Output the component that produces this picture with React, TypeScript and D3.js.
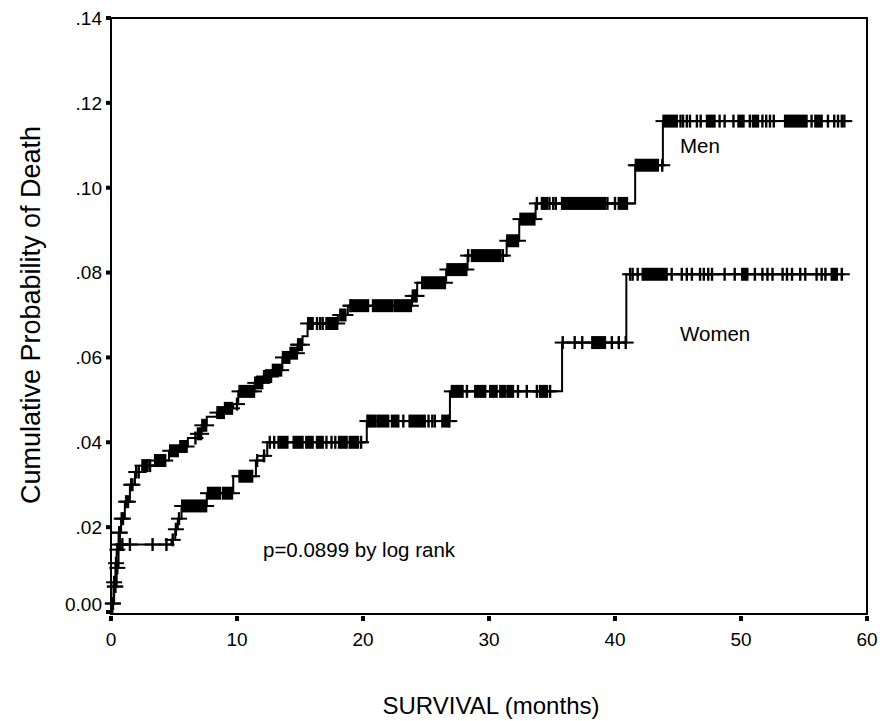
import React from "react";
import * as d3 from "d3";

// ---- Data (months, cumulative probability) ----
const xTicks = [0, 10, 20, 30, 40, 50, 60];
const yTicks = [0, 0.02, 0.04, 0.06, 0.08, 0.1, 0.12, 0.14];
const yTickLabels = ["0.00", ".02", ".04", ".06", ".08", ".10", ".12", ".14"];

const menSteps: [number, number][] = [
  [0, 0], [0.1, 0.002], [0.2, 0.007], [0.35, 0.0115], [0.45, 0.0147], [0.6, 0.0187],
  [0.8, 0.022], [1.1, 0.026], [1.5, 0.03], [1.9, 0.033], [2.5, 0.0345], [3.5, 0.0357],
  [4.6, 0.038], [5.4, 0.039], [6.1, 0.041], [6.9, 0.042], [7.2, 0.044], [7.6, 0.046],
  [8.4, 0.047], [9.0, 0.048], [9.7, 0.049], [10.1, 0.052], [11.4, 0.054], [12.1, 0.0555],
  [12.8, 0.057], [13.6, 0.06], [14.2, 0.061], [14.8, 0.063], [15.2, 0.065], [15.6, 0.068],
  [18.0, 0.07], [18.8, 0.0722], [23.9, 0.0745], [24.3, 0.0776], [26.6, 0.0807], [28.3, 0.084],
  [31.4, 0.0875], [32.4, 0.0926], [33.7, 0.0963], [41.6, 0.1053], [43.8, 0.1157],
];
const menEnd = 58.2;
const menCensor: number[] = [
  0.15, 0.25, 0.4, 0.5, 0.65, 0.7, 0.85, 0.95, 1.2, 1.35, 1.6, 1.7, 2.0, 2.2,
  3.1, 6.7, 10.0, 14.85, 16.35, 16.6, 16.8, 19.0, 24.2, 28.35, 31.1, 33.8,
  34.8, 35.1, 35.3, 39.4, 40.0, 41.65, 43.75,
  45.2, 45.4, 45.7, 45.95, 46.5, 46.8, 48.3, 48.7, 49.4, 50.7, 51.7, 52.0, 52.3, 52.6,
  55.6, 56.9, 57.4, 57.7, 58.0, 58.2,
];
const menBlocks: [number, number][] = [
  [2.5, 2.9], [3.5, 4.3], [4.7, 5.3], [5.5, 6.0], [6.9, 7.15], [7.25, 7.55],
  [8.45, 8.95], [9.05, 9.6], [10.2, 11.0], [11.1, 11.35], [11.45, 12.0], [12.15, 12.7],
  [12.85, 13.5], [13.65, 14.15], [14.25, 14.75], [14.9, 15.15], [15.65, 16.0], [17.1, 17.95],
  [18.2, 18.6], [19.05, 20.4], [20.8, 22.3], [22.5, 23.8], [23.95, 24.25], [24.7, 26.5],
  [26.7, 28.2], [28.65, 30.9], [31.45, 32.3], [32.5, 33.6], [34.2, 34.6], [35.8, 39.2],
  [40.3, 40.95], [41.8, 43.4], [43.85, 44.9], [47.3, 47.9], [49.8, 50.2], [50.95, 51.35],
  [53.5, 55.2], [55.9, 56.4],
];

const womenSteps: [number, number][] = [
  [0, 0], [0.1, 0.002], [0.25, 0.006], [0.45, 0.0104], [0.6, 0.0159], [4.8, 0.017],
  [5.1, 0.0195], [5.3, 0.022], [5.6, 0.025], [7.6, 0.028], [9.7, 0.032], [11.5, 0.0357],
  [12.1, 0.0368], [12.4, 0.04], [20.3, 0.045], [26.9, 0.052], [35.8, 0.0635], [40.9, 0.0796],
];
const womenEnd = 58.0;
const womenCensor: number[] = [
  0.15, 0.3, 0.35, 0.5, 0.7, 0.9, 1.5, 3.3, 4.4, 4.9, 5.15, 5.4,
  11.6, 12.15, 12.6, 12.95, 17.1, 17.5, 17.8, 19.85, 20.35, 23.2, 25.2, 25.5, 25.7, 26.85,
  28.25, 32.3, 33.0, 33.8, 34.05, 34.85, 35.85, 36.8, 37.4, 39.75, 40.3, 40.85,
  41.2, 41.4, 41.8, 44.5, 45.3, 45.7, 46.1, 46.75, 47.05, 47.4, 47.7, 48.7, 49.5, 51.1,
  51.7, 52.1, 52.5, 53.3, 53.65, 54.05, 54.7, 55.1, 56.0, 56.4, 56.7, 58.0,
];
const womenBlocks: [number, number][] = [
  [5.65, 7.55], [7.7, 8.65], [8.9, 9.6], [10.2, 11.2], [13.3, 14.0], [14.5, 15.2],
  [15.5, 16.0], [16.35, 16.8], [18.1, 18.7], [18.95, 19.6], [20.45, 21.0], [21.2, 22.0],
  [22.3, 22.8], [23.7, 24.9], [26.3, 26.75], [27.05, 27.9], [28.9, 29.7], [30.1, 30.6],
  [30.9, 31.3], [31.5, 31.9], [34.2, 34.6], [38.2, 39.2], [42.2, 44.1], [50.1, 50.5],
  [57.2, 57.6],
];

const W = 880;
const H = 721;
const FONT = "'Liberation Sans', Arial, Helvetica, sans-serif";

const x = d3.scaleLinear().domain([0, 60]).range([111, 867]);
const y = d3.scaleLinear().domain([0, 0.14]).range([612, 18]);

const ARM = 8;
const HALF = 6.5;

function levelAt(steps: [number, number][], t: number): number {
  const i = d3.bisectRight(steps.map((s) => s[0]), t) - 1;
  return steps[Math.max(0, i)][1];
}

function Curve({ steps, end, censor, blocks }: {
  steps: [number, number][]; end: number; censor: number[]; blocks: [number, number][];
}) {
  const pts: [number, number][] = [...steps, [end, steps[steps.length - 1][1]]];
  const line = d3.line<[number, number]>().x((d) => x(d[0])).y((d) => y(d[1])).curve(d3.curveStepAfter);
  return (
    <g>
      <path d={line(pts) || ""} fill="none" stroke="#000" strokeWidth={2} />
      {censor.map((t, i) => {
        const cx = x(t);
        const cy = y(levelAt(steps, t));
        return (
          <g key={"c" + i} stroke="#000" strokeWidth={2.4}>
            <line x1={cx} x2={cx} y1={cy - HALF} y2={cy + HALF} />
            <line x1={cx - ARM} x2={cx + ARM} y1={cy} y2={cy} strokeWidth={2} />
          </g>
        );
      })}
      {blocks.map((b, i) => {
        const x0 = x(b[0]);
        const x1 = x(b[1]);
        const cy = y(levelAt(steps, b[0]));
        return (
          <g key={"b" + i}>
            <line x1={x0 - ARM} x2={x1 + ARM} y1={cy} y2={cy} stroke="#000" strokeWidth={2} />
            <rect x={x0 - 1.2} y={cy - HALF} width={x1 - x0 + 2.4} height={HALF * 2} fill="#000" />
          </g>
        );
      })}
    </g>
  );
}

export default function App() {
  return (
    <svg width={W} height={H} style={{ position: "absolute", left: 0, top: 0, background: "#fff" }}
      fontFamily={FONT}>
      <rect x={0} y={0} width={W} height={H} fill="#fff" />
      {/* frame */}
      <rect x={x(0)} y={y(0.14)} width={x(60) - x(0)} height={614 - y(0.14)} fill="none" stroke="#000" strokeWidth={2} />
      {/* y ticks */}
      {yTicks.map((v, i) => (
        <g key={"yt" + i}>
          <rect x={x(0) - 5} y={y(v) - 2} width={5} height={4} fill="#000" />
          <text x={102} y={i === 0 ? y(v) - 8 : y(v)} dy="0.36em" textAnchor="end" fontSize={19}>
            {yTickLabels[i]}
          </text>
        </g>
      ))}
      {/* x ticks */}
      {xTicks.map((v) => (
        <g key={"xt" + v}>
          <rect x={x(v) - 2} y={616} width={4} height={5} fill="#000" />
          <text x={x(v)} y={646} textAnchor="middle" fontSize={19}>{v}</text>
        </g>
      ))}
      <Curve steps={menSteps} end={menEnd} censor={menCensor} blocks={menBlocks} />
      <Curve steps={womenSteps} end={womenEnd} censor={womenCensor} blocks={womenBlocks} />
      <text x={680} y={153} fontSize={20.5}>Men</text>
      <text x={680} y={341} fontSize={20.5}>Women</text>
      <text x={263} y={557} fontSize={20.5}>p=0.0899 by log rank</text>
      <text x={491} y={714} textAnchor="middle" fontSize={24}>SURVIVAL (months)</text>
      <text transform="translate(40,315) rotate(-90)" textAnchor="middle" fontSize={27}>
        Cumulative Probability of Death
      </text>
    </svg>
  );
}
